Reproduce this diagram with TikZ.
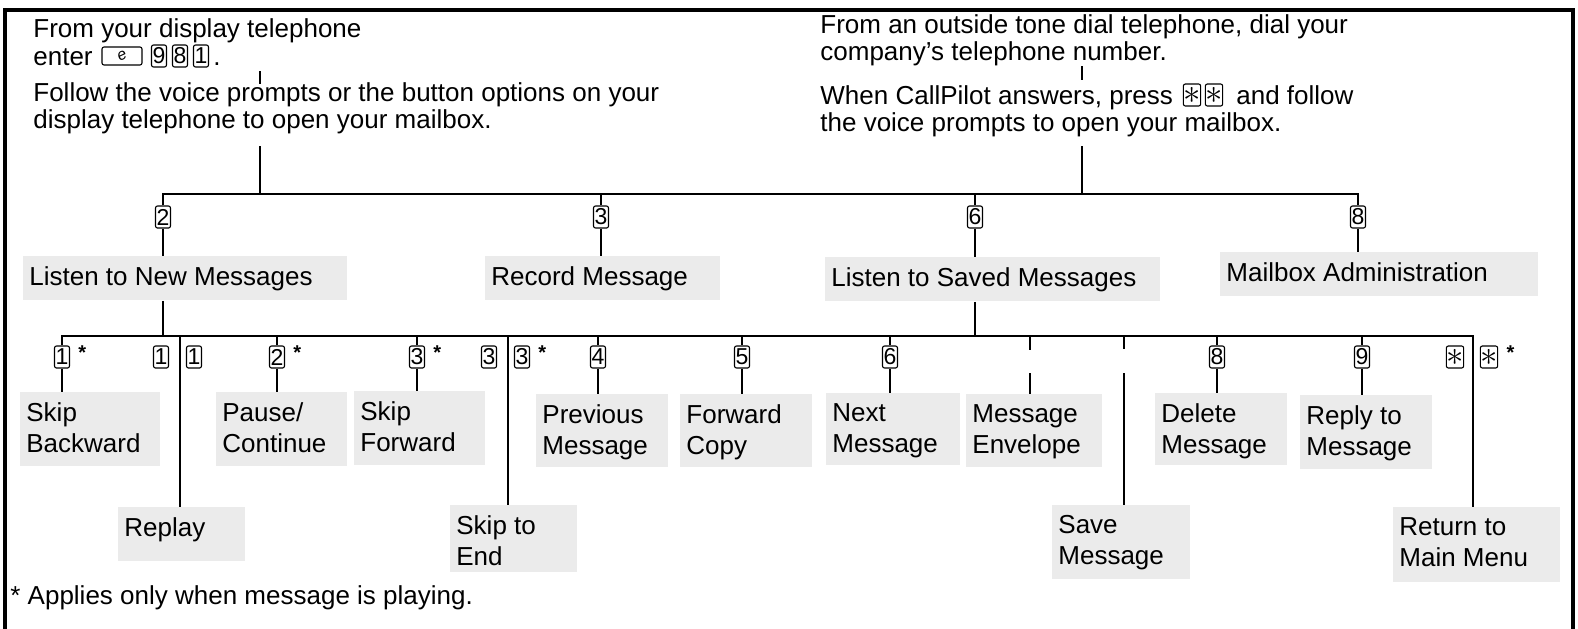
\documentclass[tikz,border=0pt]{standalone}
\usepackage{fontspec}
\setmainfont{Liberation Sans}
\definecolor{boxgray}{HTML}{EBEBEB}
\newcommand{\gboxnode}[6]{%
  \node[gbox, minimum width=#4pt, minimum height=#5pt] (#1) at (#2,#3) {};
  \node[btxt] (#1t) at ([xshift=3pt,yshift=-5pt]#1.north west) {#6};}
\newcommand{\starglyph}{{\fontsize{17}{17}\selectfont$\ast$}}
\begin{document}
\begin{tikzpicture}[x=0.5pt,y=-0.5pt,
  txt/.style={font=\fontsize{13}{13.5}\selectfont, inner sep=0pt, anchor=base west},
  btxt/.style={font=\fontsize{13}{15.5}\selectfont, inner sep=0pt, anchor=north west, align=left},
  key/.style={draw, line width=0.55pt, rounded corners=1pt, minimum width=7.5pt, minimum height=11pt, inner sep=0pt, font=\fontsize{11.5}{11.5}\selectfont},
  star/.style={font=\fontsize{10}{10}\selectfont\bfseries, inner sep=0pt, anchor=north west},
  gbox/.style={fill=boxgray, inner sep=0pt, anchor=north west},
  conn/.style={line width=1.35pt},
  frame/.style={line width=1.6pt}]
\useasboundingbox (0,0) rectangle (1578,628);
\draw[frame] (5,660) -- (5,10) -- (1573,10) -- (1573,660);

% ---- top left text
\node[txt] (L1) at (33,37) {From your display telephone};
\node[txt] (L2) at (33,65) {enter};
\node[key, minimum width=20pt, minimum height=9pt] (fk) at (122,56) {\rotatebox{25}{\fontsize{8}{8}\selectfont\itshape e}};
\node[key] (e9) at (159,56) {9};
\node[key] (e8) at (180,56) {8};
\node[key] (e1) at (201,56) {1};
\node[txt] (Ldot) at (213,65) {.};
\node[txt] (L3) at (33,101) {Follow the voice prompts or the button options on your};
\node[txt] (L4) at (33,128) {display telephone to open your mailbox.};
\coordinate (la1) at (260,71);
\coordinate (la2) at (260,84);
\coordinate (lb1) at (260,146);
\draw[conn] (la1) -- (la2);

% ---- top right text
\node[txt] (R1) at (820,33) {From an outside tone dial telephone, dial your};
\node[txt] (R2) at (820,60) {company’s telephone number.};
\node[txt] (R3a) at (820,104) {When CallPilot answers, press};
\node[key] (rs1) at (1192,95) {\starglyph};
\node[key] (rs2) at (1214,95) {\starglyph};
\node[txt] (R3b) at (1236,104) {and follow};
\node[txt] (R4) at (820,131) {the voice prompts to open your mailbox.};
\coordinate (ra1) at (1082,66);
\coordinate (ra2) at (1082,80);
\coordinate (rb1) at (1082,146);
\draw[conn] (ra1) -- (ra2);

% ---- level 2
\coordinate (busL) at (163,194);
\coordinate (busR) at (1358,194);
\node[key] (k2) at (163,217) {2};
\node[key] (k3) at (601,217) {3};
\node[key] (k6) at (975,217) {6};
\node[key] (k8) at (1358,217) {8};
\gboxnode{n2}{23}{256}{162}{22}{Listen to New Messages}
\gboxnode{n3}{485}{256}{117.5}{22}{Record Message}
\gboxnode{n6}{825}{257}{167.5}{22}{Listen to Saved Messages}
\gboxnode{n8}{1220}{252}{159}{22}{Mailbox Administration}

\draw[conn] (k2.north) -- (busL) -- (busR) -- (k8.north);
\draw[conn] (lb1) -- (lb1 |- busL);
\draw[conn] (rb1) -- (rb1 |- busL);
\draw[conn] (k3 |- busL) -- (k3.north);
\draw[conn] (k6 |- busL) -- (k6.north);
\foreach \k/\n in {k2/n2,k3/n3,k6/n6,k8/n8}
  \draw[conn] (\k.south) -- (\k.south |- \n.north);

% ---- level 3
\coordinate (b2L) at (62,336);
\coordinate (b2R) at (1473,336);
\coordinate (xB) at (180,336);
\coordinate (xE) at (508,336);
\coordinate (xI) at (1030,336);
\coordinate (xJ) at (1124,336);
\coordinate (gI1) at (1030,350);
\coordinate (gI2) at (1030,373);
\coordinate (gJ1) at (1124,349);
\coordinate (gJ2) at (1124,373);

\node[key] (kA) at (62,357) {1};
\node[key] (kB1) at (161,357) {1};
\node[key] (kB2) at (194,357) {1};
\node[key] (kC) at (277,357) {2};
\node[key] (kD) at (417,357) {3};
\node[key] (kE1) at (489,357) {3};
\node[key] (kE2) at (522,357) {3};
\node[key] (kF) at (598,357) {4};
\node[key] (kG) at (742,357) {5};
\node[key] (kH) at (890,357) {6};
\node[key] (kK) at (1217,357) {8};
\node[key] (kL) at (1362,357) {9};
\node[key] (kM1) at (1455,357) {\starglyph};
\node[key] (kM2) at (1489,357) {\starglyph};
\node[star] (sA) at ([xshift=4pt]kA.north east) {*};
\node[star] (sC) at ([xshift=4pt]kC.north east) {*};
\node[star] (sD) at ([xshift=4pt]kD.north east) {*};
\node[star] (sE) at ([xshift=4pt]kE2.north east) {*};
\node[star] (sM) at ([xshift=4pt]kM2.north east) {*};

\gboxnode{m1}{20}{392}{70}{37}{Skip\\Backward}
\gboxnode{m2}{118}{507}{63.5}{27}{Replay}
\gboxnode{m3}{216}{392}{65.5}{37}{Pause/\\Continue}
\gboxnode{m4}{354}{391}{65.5}{37}{Skip\\Forward}
\gboxnode{m5}{450}{505}{63.5}{33.5}{Skip to\\End}
\gboxnode{m6}{536}{394}{66}{36.5}{Previous\\Message}
\gboxnode{m7}{680}{394}{66}{36.5}{Forward\\Copy}
\gboxnode{m8}{826}{393}{67}{36}{Next\\Message}
\gboxnode{m9}{966}{394}{68}{36.5}{Message\\Envelope}
\gboxnode{m10}{1052}{505}{69}{37}{Save\\Message}
\gboxnode{m11}{1155}{393}{66}{36}{Delete\\Message}
\gboxnode{m12}{1300}{395}{66}{37}{Reply to\\Message}
\gboxnode{m13}{1393}{507}{83.5}{37.5}{Return to\\Main Menu}

\draw[conn] (k2 |- n2.south) -- (k2 |- b2L);
\draw[conn] (k6 |- n6.south) -- (k6 |- b2L);
\draw[conn] (kA.north) -- (b2L) -- (b2R) -- (b2R |- m13.north);
\foreach \k/\m in {kA/m1,kC/m3,kD/m4,kF/m6,kG/m7,kH/m8,kK/m11,kL/m12}
  \draw[conn] (\k.south) -- (\k.south |- \m.north);
\foreach \k in {kC,kD,kF,kG,kH,kK,kL}
  \draw[conn] (\k |- b2L) -- (\k.north);
\draw[conn] (xB) -- (xB |- m2.north);
\draw[conn] (xE) -- (xE |- m5.north);
\draw[conn] (xI) -- (gI1);
\draw[conn] (gI2) -- (gI2 |- m9.north);
\draw[conn] (xJ) -- (gJ1);
\draw[conn] (gJ2) -- (gJ2 |- m10.north);

\node[txt] (fn) at (10,604) {* Applies only when message is playing.};
\end{tikzpicture}
\end{document}
